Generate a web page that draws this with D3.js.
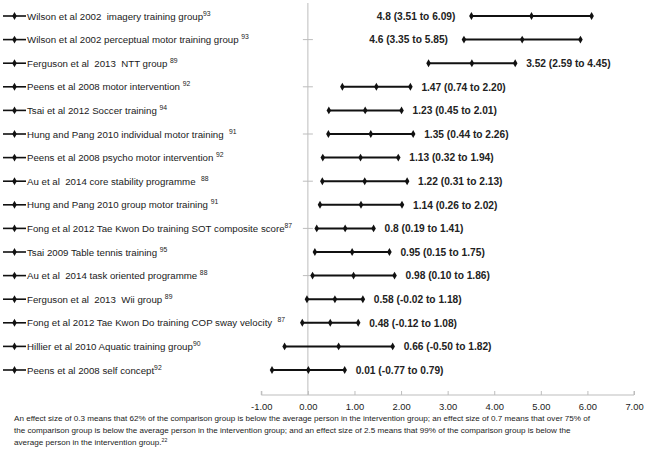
<!DOCTYPE html>
<html><head><meta charset="utf-8">
<script src="https://cdn.jsdelivr.net/npm/d3@7"></script>
<style>
html,body{margin:0;padding:0;background:#fff;}
svg text{white-space:pre;}
</style></head>
<body>
<svg id="c" width="648" height="452"></svg>
<script>
const categories = [
  "Wilson et al 2002  imagery training group",
  "Wilson et al 2002 perceptual motor training group ",
  "Ferguson et al  2013  NTT group ",
  "Peens et al 2008 motor intervention ",
  "Tsai et al 2012 Soccer training ",
  "Hung and Pang 2010 individual motor training  ",
  "Peens et al 2008 psycho motor intervention ",
  "Au et al  2014 core stability programme  ",
  "Hung and Pang 2010 group motor training ",
  "Fong et al 2012 Tae Kwon Do training SOT composite score",
  "Tsai 2009 Table tennis training ",
  "Au et al  2014 task oriented programme ",
  "Ferguson et al  2013  Wii group ",
  "Fong et al 2012 Tae Kwon Do training COP sway velocity  ",
  "Hillier et al 2010 Aquatic training group",
  "Peens et al 2008 self concept"
];
const refs = ["93","93","89","92","94","91","92","88","91","87","95","88","89","87","90","92"];
const estimates = [4.8, 4.6, 3.52, 1.47, 1.23, 1.35, 1.13, 1.22, 1.14, 0.8, 0.95, 0.98, 0.58, 0.48, 0.66, 0.01];
const lower =     [3.51, 3.35, 2.59, 0.74, 0.45, 0.44, 0.32, 0.31, 0.26, 0.19, 0.15, 0.10, -0.02, -0.12, -0.50, -0.77];
const upper =     [6.09, 5.85, 4.45, 2.20, 2.01, 2.26, 1.94, 2.13, 2.02, 1.41, 1.75, 1.86, 1.18, 1.08, 1.82, 0.79];
const xTicks = [-1, 0, 1, 2, 3, 4, 5, 6, 7];
const footnote = [
  "An effect size of 0.3 means that 62% of the comparison group is below the average person in the intervention group; an effect size of 0.7 means that over 75% of",
  "the comparison group is below the average person in the intervention group; and an effect size of 2.5 means that 99% of the comparison group is below the",
  "average person in the intervention group."
];
const footRef = "22";

const W = 648, H = 452;
const svg = d3.select("#c");
const x = d3.scaleLinear().domain([-1, 7]).range([261.3, 634]);
const y = d3.scalePoint().domain(categories).range([16, 370]);
const axisY = 395;
const FONT = "'Liberation Sans', Arial, sans-serif";
const locale = d3.formatLocale({decimal: ".", thousands: ",", grouping: [3], currency: ["", ""], minus: "-"});
const fmt = locale.format(".2f");

// vertical zero line
svg.append("line").attr("x1", x(0)).attr("x2", x(0)).attr("y1", 3).attr("y2", axisY)
  .attr("stroke", "#bdbdbd").attr("stroke-width", 1);
// ticks on zero line (every other row)
svg.append("g").selectAll("line").data(categories.filter((d, i) => i % 2 === 1)).join("line")
  .attr("x1", x(0) - 5).attr("x2", x(0) + 5)
  .attr("y1", d => y(d)).attr("y2", d => y(d))
  .attr("stroke", "#bdbdbd").attr("stroke-width", 1);

// bottom axis
const xAxis = d3.axisBottom(x).tickValues(xTicks).tickSize(-4).tickPadding(8).tickFormat(fmt);
const gx = svg.append("g").attr("transform", `translate(0,${axisY})`).call(xAxis);
gx.select(".domain").attr("stroke", "#bdbdbd").attr("d", `M${x(-1)},-4V0H${x(7)}V-4`);
gx.selectAll(".tick line").attr("stroke", "#bdbdbd");
gx.selectAll(".tick text").attr("font-family", FONT).attr("font-size", 9.4).attr("fill", "#222");

const rows = categories.map((c, i) => ({c, i, est: estimates[i], lo: lower[i], hi: upper[i], ref: refs[i]}));
const diamond = d3.symbol().type(d3.symbolDiamond).size(18);

// legend-like markers and labels on the left
const lg = svg.append("g").selectAll("g").data(rows).join("g")
  .attr("transform", d => `translate(0,${y(d.c)})`);
lg.append("line").attr("x1", 3).attr("x2", 26).attr("y1", 0).attr("y2", 0)
  .attr("stroke", "#111").attr("stroke-width", 1.6);
lg.append("path").attr("d", diamond).attr("transform", "translate(14.5,0)").attr("fill", "#111");
const lt = lg.append("text").attr("x", 27).attr("y", 3.5)
  .attr("font-family", FONT).attr("font-size", 9.7).attr("fill", "#1a1a1a");
lt.append("tspan").text(d => d.c);
lt.append("tspan").attr("dy", -4).attr("font-size", 6.8).text(d => d.ref);

// CI bars
const bars = svg.append("g").selectAll("g").data(rows).join("g")
  .attr("transform", d => `translate(0,${y(d.c)})`);
bars.append("line").attr("x1", d => x(d.lo)).attr("x2", d => x(d.hi))
  .attr("stroke", "#111").attr("stroke-width", 2);
bars.selectAll("path").data(d => [d.lo, d.est, d.hi]).join("path")
  .attr("d", diamond).attr("transform", v => `translate(${x(v)},0)`).attr("fill", "#111");

// value labels
bars.append("text")
  .attr("font-family", FONT).attr("font-size", 10.2).attr("font-weight", "bold").attr("fill", "#222")
  .attr("y", 3.8)
  .text(d => `${d.est} (${fmt(d.lo)} to ${fmt(d.hi)})`)
  .each(function (d) {
    const t = d3.select(this);
    const w = this.getComputedTextLength();
    const gap = 11;
    if (x(d.hi) + gap + w > W - 4) {
      t.attr("x", x(d.lo) - gap - 5).attr("text-anchor", "end");
    } else {
      t.attr("x", x(d.hi) + gap).attr("text-anchor", "start");
    }
  });

// footnote
const ft = svg.append("g").attr("font-family", FONT).attr("font-size", 8.1).attr("fill", "#222");
footnote.forEach((line, i) => {
  const t = ft.append("text").attr("x", 14).attr("y", 421 + i * 12);
  t.append("tspan").text(line);
  if (i === footnote.length - 1) t.append("tspan").attr("dy", -3).attr("font-size", 5.2).text(footRef);
});
</script>
</body></html>
